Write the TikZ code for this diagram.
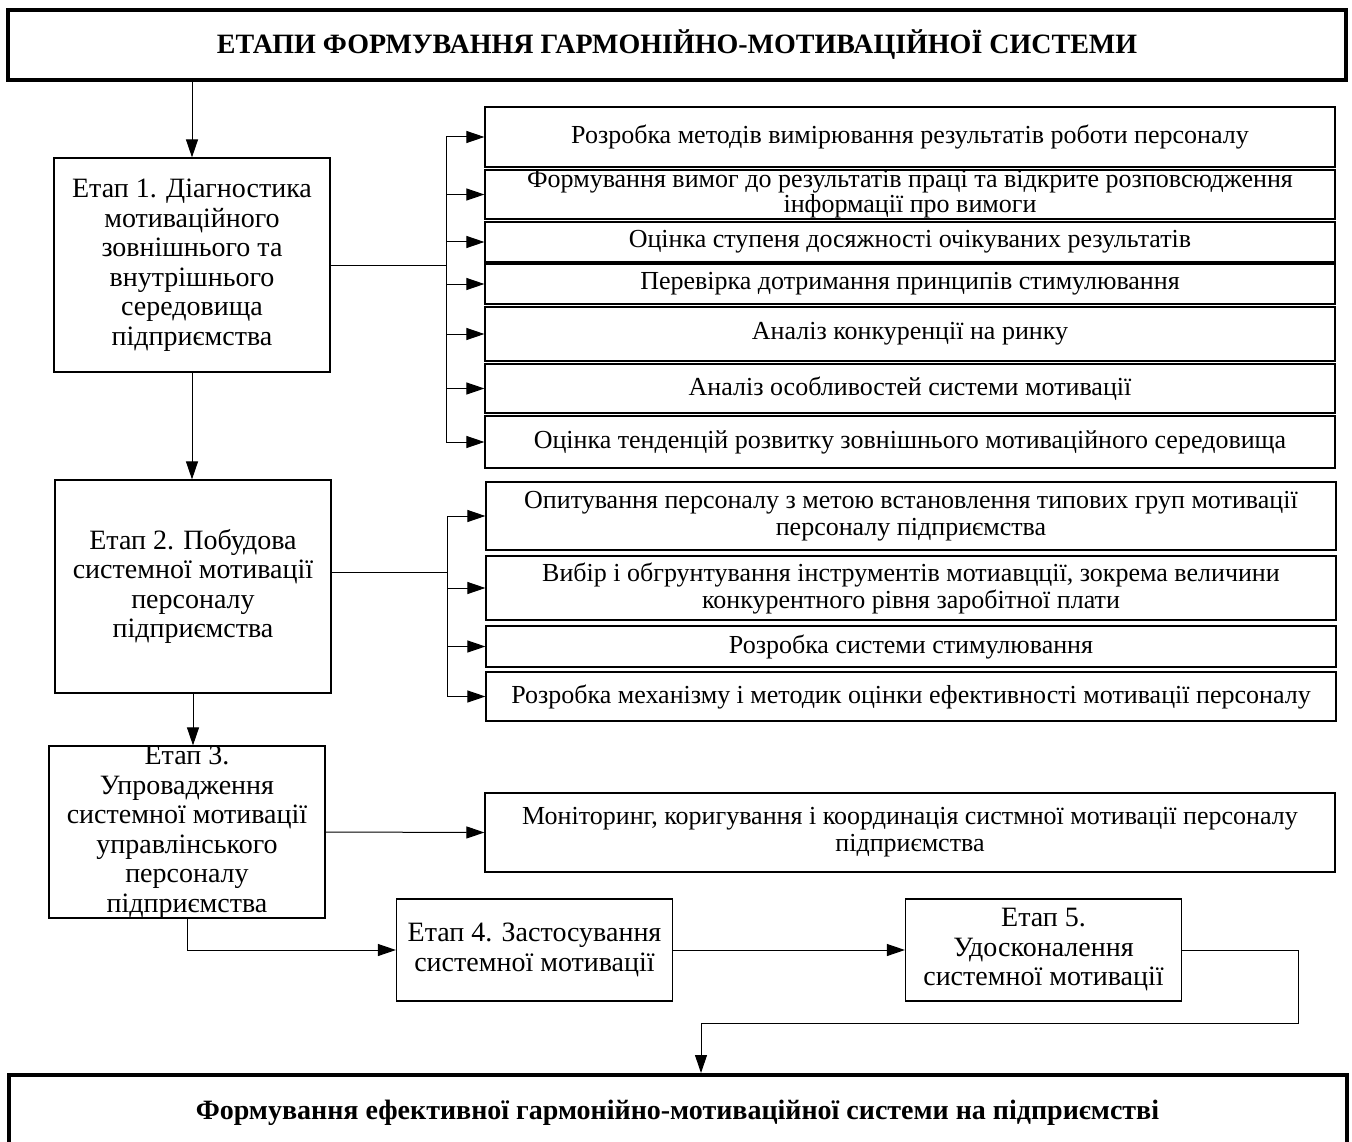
\documentclass[tikz,border=0pt]{standalone}
\usepackage{fontspec}
\setmainfont{Liberation Serif}
\usetikzlibrary{arrows.meta, positioning}
\tikzset{>={Triangle[length=18pt,width=12pt]}}
\tikzset{
  stagebox/.style={draw, line width=1.2pt, minimum width=276pt, align=center, inner sep=0pt, font=\fontsize{28}{29.5}\selectfont},
  itembox/.style={draw, line width=1.2pt, minimum width=850pt, align=center, inner sep=0pt, font=\fontsize{26}{27}\selectfont},
  headbox/.style={draw, line width=4pt, minimum width=1338pt, align=center, inner sep=0pt, font=\bfseries\fontsize{28}{30}\selectfont},
}

\begin{document}
\begin{tikzpicture}[x=1pt, y=-1pt, line width=1pt]
			\useasboundingbox (0,0) rectangle (1352,1142);
			\node[headbox, minimum height=70pt] (top) at (677,45) {ЕТАПИ ФОРМУВАННЯ ГАРМОНІЙНО-МОТИВАЦІЙНОЇ СИСТЕМИ};
			% stages
			\node[stagebox, minimum height=214pt] (s1) at (192,265) {Етап 1. Діагностика\\мотиваційного\\зовнішнього та\\внутрішнього\\середовища\\підприємства};
			\node[stagebox, minimum height=213pt] (s2) at (193,586.5) {Етап 2. Побудова\\системної мотивації\\персоналу\\підприємства};
			\node[stagebox, minimum height=172pt] (s3) at (187,832) {Етап 3.\\Упровадження\\системної мотивації\\управлінського\\персоналу\\підприємства};
			\node[stagebox, minimum height=102pt] (s4) at (534.5,950) {Етап 4. Застосування\\системної мотивації};
			\node[stagebox, minimum height=102pt] (s5) at (1043.5,950) {Етап 5.\\Удосконалення\\системної мотивації};
			% tasks of stage 1
			\node[itembox, minimum height=60pt] (b1) at (910,137) {Розробка методів вимірювання результатів роботи персоналу};
			\node[itembox, minimum height=49pt, font=\fontsize{26}{25}\selectfont] (b2) at (910,194.5) {Формування вимог до результатів праці та відкрите розповсюдження\\інформації про вимоги};
			\node[itembox, minimum height=40pt] (b3) at (910,242) {Оцінка ступеня досяжності очікуваних результатів};
			\node[itembox, minimum height=40pt] (b4) at (910,284) {Перевірка дотримання принципів стимулювання};
			\node[itembox, minimum height=54pt] (b5) at (910,334) {Аналіз конкуренції на ринку};
			\node[itembox, minimum height=49pt] (b6) at (910,388.5) {Аналіз особливостей системи мотивації};
			\node[itembox, minimum height=52pt] (b7) at (910,442) {Оцінка тенденцій розвитку зовнішнього мотиваційного середовища};
			% tasks of stage 2
			\node[itembox, minimum height=68pt] (c1) at (911,516) {Опитування персоналу з метою встановлення типових груп мотивації\\персоналу підприємства};
			\node[itembox, minimum height=64pt] (c2) at (911,588) {Вибір і обгрунтування інструментів мотиавцції, зокрема величини\\конкурентного рівня заробітної плати};
			\node[itembox, minimum height=41pt] (c3) at (911,646.5) {Розробка системи стимулювання};
			\node[itembox, minimum height=49pt] (c4) at (911,696.5) {Розробка механізму і методик оцінки ефективності мотивації персоналу};
			% task of stage 3
			\node[itembox, minimum height=79pt] (m) at (910,832.5) {Моніторинг, коригування і координація систмної мотивації персоналу\\підприємства};
			\node[headbox, minimum height=75pt] (bottom) at (677.5,1112.5) {Формування ефективної гармонійно-мотиваційної системи на підприємстві};
			% connectors
			\coordinate (bus1) at (446,265);
			\coordinate (bus2) at (447,572);
			\coordinate (turn) at (1298,1023);
			\coordinate (drop) at (701,1023);
			\draw[->] (top.south -| s1.north) -- (s1.north);
			\draw[->] (s1.south) -- (s1.south |- s2.north);
			\draw[->] (s2.south) -- (s2.south |- s3.north);
			\draw (s1.east) -- (bus1);
			\draw (bus1 |- b1.west) -- (bus1 |- b7.west);
			\foreach \b in {b1,b2,b3,b4,b5,b6,b7}
				\draw[->] (bus1 |- \b.west) -- (\b.west);
			\draw (s2.east |- bus2) -- (bus2);
			\draw (bus2 |- c1.west) -- (bus2 |- c4.west);
			\foreach \c in {c1,c2,c3,c4}
				\draw[->] (bus2 |- \c.west) -- (\c.west);
			\draw[->] (s3.east) -- (m.west);
			\draw[->] (s3.south) |- (s4.west);
			\draw[->] (s4.east) -- (s5.west);
			\draw[->] (s5.east) -| (turn) -- (drop) -- (drop |- bottom.north);
		\end{tikzpicture}
\end{document}
